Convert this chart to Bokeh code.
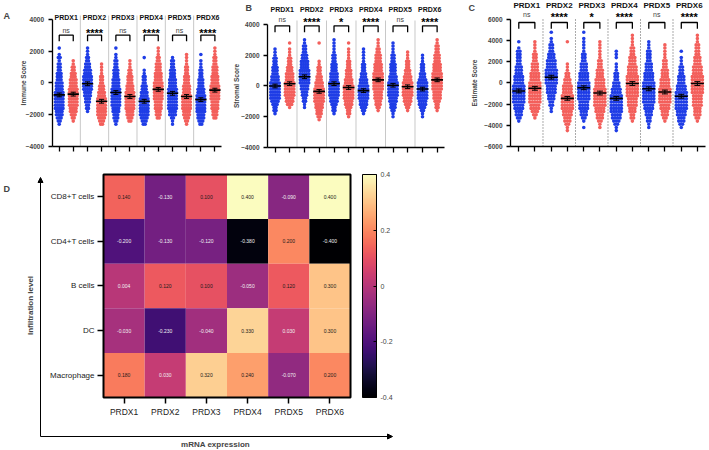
from bokeh.plotting import figure
from bokeh.layouts import row, column
from bokeh.models import (Range1d, FixedTicker, LinearColorMapper, ColorBar,
                          Label, Arrow, NormalHead, ColumnDataSource, CustomJSTickFormatter)
from bokeh.palettes import Magma256
from bokeh.core.properties import value
from bokeh.embed import file_html
from bokeh.resources import INLINE

FONT = "Liberation Sans"
BLUE = "#1f3de6"
RED = "#f35f5b"

genes = ["PRDX1", "PRDX2", "PRDX3", "PRDX4", "PRDX5", "PRDX6"]

# ---- Panel A: Immune score. Dot counts per 200-unit row, starting at -2600 ----
immune_row0, immune_step = -2600, 200
immune_blue = [
    [1,2,3,4,4,5,5,5,5,5,5,4,4,4,3,3,3,2,2,2,1,2,1,0,1],
    [0,0,0,0,1,2,2,3,3,4,4,5,5,5,5,5,4,4,3,3,2,2,1,1,1],
    [1,2,3,3,4,4,5,5,5,5,5,5,4,4,4,3,3,3,2,2,2,1,1,0,1],
    [2,3,4,5,5,5,5,5,5,4,4,3,3,2,2,2,1,1,0,0,0,1],
    [1,1,2,4,4,5,5,5,5,5,5,5,4,4,4,3,3,3,2,2,2,1],
    [2,3,4,4,5,5,5,5,5,5,4,4,3,3,3,2,2,2,1,1,1,0,1],
]
immune_red = [
    [0,1,2,3,4,4,5,5,5,5,5,5,4,4,4,3,3,2,2,1,1],
    [2,3,4,5,5,5,5,5,5,4,4,3,3,2,2,2,1,1,1,1],
    [0,2,3,4,4,5,5,5,5,5,5,4,4,3,3,3,2,2,1,1,1],
    [0,0,2,3,3,4,4,4,5,5,5,5,5,5,4,4,4,3,3,3,2,2,1,1,1],
    [1,2,3,4,4,5,5,5,5,5,4,4,4,3,3,3,2,2,2,1,1,1,1],
    [0,0,2,3,3,4,4,4,5,5,5,5,5,4,4,4,3,3,3,2,2,2,1,1,1],
]
immune_blue_mean = [-750, -50, -600, -1150, -650, -1050]
immune_red_mean = [-700, -1150, -850, -400, -850, -450]
immune_sem = 120
immune_sig = ["ns", "****", "ns", "****", "ns", "****"]

# ---- Panel B: Stromal score. Dot counts per 200-unit row, starting at -2200 ----
stromal_row0, stromal_step = -2200, 200
stromal_blue = [
    [0,0,1,2,2,3,4,5,5,5,5,5,5,4,4,3,3,3,2,2,2,1,1,1],
    [0,0,0,0,1,1,2,2,3,3,4,4,5,5,5,5,5,4,4,4,3,3,2,2,2,1,1],
    [0,0,1,2,2,3,4,4,5,5,5,5,5,4,4,4,3,3,3,2,2,2,1,1,1,1,1],
    [0,0,1,2,3,4,4,5,5,5,5,5,4,4,3,3,2,2,2,1,1,1,1,1],
    [0,1,1,2,3,3,4,4,5,5,5,5,5,4,4,3,3,3,3,2,2,2,1,1,1,1],
    [0,1,1,2,3,4,4,5,5,5,5,5,5,4,3,3,2,2,2,1,1,1],
]
stromal_red = [
    [0,0,0,0,1,3,4,4,5,5,5,5,5,4,4,4,3,3,2,2,2,1,1,1,0,1],
    [1,2,3,3,4,4,5,5,5,5,5,4,4,3,3,2,2,2,1,1,0,0,0,0,0,1],
    [0,1,2,2,3,4,4,5,5,5,5,5,4,4,3,3,3,2,2,2,1,1,1,1,0,1],
    [0,0,0,1,2,3,3,4,4,4,5,5,5,5,5,5,4,4,4,3,3,3,2,2,1,1,1],
    [0,0,0,1,2,3,4,4,5,5,5,5,5,4,4,3,3,2,2,2,1,1,1],
    [0,0,0,1,2,2,3,4,4,4,5,5,5,5,5,5,4,4,4,3,3,3,2,2,2,1,1],
]
stromal_blue_mean = [0, 600, 150, -300, 50, -200]
stromal_red_mean = [150, -350, -100, 400, -50, 400]
stromal_sem = 120
stromal_sig = ["ns", "****", "*", "****", "ns", "****"]

# ---- Panel C: Estimate score. Dot counts per 300-unit row, starting at -4500 ----
estimate_row0, estimate_step = -4500, 300
estimate_blue = [
    [0,0,0,1,2,3,3,4,4,5,5,5,5,5,5,4,4,4,3,3,3,2,2,2,2,2,1,0,1],
    [0,0,0,0,0,0,1,1,2,2,3,3,4,4,4,5,5,5,5,5,4,4,4,3,3,2,2,2,1,1,0,1],
    [0,1,0,1,2,3,3,4,4,4,5,5,5,5,5,5,4,4,4,3,3,3,2,2,2,1,1,1,1,1,0,1],
    [1,1,2,3,4,4,5,5,5,5,5,5,4,4,3,3,2,2,2,1,1,1,0,1,1,1],
    [0,1,1,2,2,3,3,4,4,5,5,5,5,5,5,5,4,4,4,3,3,3,2,2,2,2,1,1,1],
    [0,1,2,3,3,4,4,5,5,5,5,5,5,4,4,3,3,3,2,2,2,1,1,1,0,1],
]
estimate_red = [
    [0,0,0,0,1,2,3,4,4,5,5,5,5,5,5,5,4,4,4,3,3,3,2,2,2,1,1,1,1],
    [1,1,2,3,3,4,4,5,5,5,5,5,4,4,4,3,3,2,2,1,1,1,0,0,0,0,0,0,1],
    [0,1,1,2,3,3,4,4,5,5,5,5,5,5,4,4,4,3,3,3,2,2,2,1,1,1,1,1,1],
    [0,0,0,1,2,2,3,3,4,4,4,5,5,5,5,5,5,5,4,4,4,3,3,3,2,2,2,1,1,1,1],
    [0,0,0,1,2,3,3,4,4,5,5,5,5,5,4,4,4,3,3,3,2,2,2,1,1,1,1,1],
    [0,0,0,1,2,3,3,3,4,4,4,4,5,5,5,5,5,5,4,4,4,3,3,3,2,2,2,2,1,1,1],
]
estimate_blue_mean = [-750, 550, -450, -1450, -550, -1250]
estimate_red_mean = [-500, -1450, -950, -50, -850, -50]
estimate_sem = 180
estimate_sig = ["ns", "****", "*", "****", "ns", "****"]

# ---- Panel D: correlation heatmap ----
cells = ["CD8+T cells", "CD4+T cells", "B cells", "DC", "Macrophage"]
corr = [
    [0.140, -0.130, 0.100, 0.400, -0.090, 0.400],
    [-0.200, -0.130, -0.120, -0.380, 0.200, -0.400],
    [0.004, 0.120, 0.100, -0.050, 0.120, 0.300],
    [-0.030, -0.230, -0.040, 0.330, 0.030, 0.300],
    [0.180, 0.030, 0.320, 0.240, -0.070, 0.200],
]
cbar_ticks = [-0.4, -0.2, 0, 0.2, 0.4]

BX, RX = 0.255, 0.75


def scatter_panel(blue, red, bmean, rmean, sem, sig, row0, step, xr, yr, yticks, ylabel,
                  width, dx, lab_y, br_top, br_leg, ns_y, st_y, sep_top, sep_dash,
                  sep_color, lab_size, letter, letter_xy, title_standoff):
    p = figure(width=width, height=166, x_range=Range1d(*xr), y_range=Range1d(*yr),
               output_backend="svg", toolbar_location=None,
               min_border_left=0, min_border_right=0, min_border_top=0, min_border_bottom=0)
    p.outline_line_color = None
    p.grid.visible = False

    # separators
    p.segment(x0=[1, 2, 3, 4, 5], y0=[yticks[0]] * 5, x1=[1, 2, 3, 4, 5], y1=[sep_top] * 5,
              line_color=sep_color, line_width=1, line_dash=sep_dash)

    xs, ys, cs = [], [], []
    for gi in range(6):
        for counts, off, col in ((blue[gi], BX, BLUE), (red[gi], RX, RED)):
            for k, n in enumerate(counts):
                y = row0 + k * step
                for j in range(n):
                    xs.append(gi + off + (j - (n - 1) / 2) * dx)
                    ys.append(y)
                    cs.append(col)
    p.scatter(xs, ys, size=3.6, fill_color=cs, line_color=None)

    # mean lines + error bars
    mx0, mx1, my, ex, ey0, ey1, cx0, cx1, cy = [], [], [], [], [], [], [], [], []
    for gi in range(6):
        for m, off in ((bmean[gi], BX), (rmean[gi], RX)):
            c = gi + off
            mx0.append(c - 0.2); mx1.append(c + 0.2); my.append(m)
            ex.append(c); ey0.append(m - sem); ey1.append(m + sem)
            cx0 += [c - 0.09, c - 0.09]; cx1 += [c + 0.09, c + 0.09]; cy += [m - sem, m + sem]
    p.segment(x0=mx0, y0=my, x1=mx1, y1=my, line_color="black", line_width=1.6)
    p.segment(x0=ex, y0=ey0, x1=ex, y1=ey1, line_color="black", line_width=1)
    p.segment(x0=cx0, y0=cy, x1=cx1, y1=cy, line_color="black", line_width=1)

    # brackets
    bxs = [[gi + BX, gi + BX, gi + RX, gi + RX] for gi in range(6)]
    bys = [[br_leg, br_top, br_top, br_leg] for gi in range(6)]
    p.multi_line(bxs, bys, line_color="black", line_width=1.3)

    ns_idx = [i for i, s in enumerate(sig) if s == "ns"]
    st_idx = [i for i, s in enumerate(sig) if s != "ns"]
    p.text(x=[i + 0.5 for i in ns_idx], y=[ns_y] * len(ns_idx), text=[sig[i] for i in ns_idx],
           text_font=value(FONT), text_font_size="7px", text_color="#444444",
           text_align="center", text_baseline="middle")
    p.text(x=[i + 0.5 for i in st_idx], y=[st_y] * len(st_idx), text=[sig[i] for i in st_idx],
           text_font=value(FONT), text_font_size="11px", text_font_style="bold",
           text_color="black", text_align="center", text_baseline="alphabetic")

    p.text(x=[i + 0.5 for i in range(6)], y=[lab_y] * 6, text=genes,
           text_font=value(FONT), text_font_size=lab_size, text_font_style="bold",
           text_color="#111111", text_align="center", text_baseline="middle")

    # axes (pinned at the data origin so the frame can fill the figure)
    p.yaxis.fixed_location = 0
    p.yaxis.ticker = FixedTicker(ticks=yticks)
    p.yaxis.bounds = (yticks[0], yticks[-1])
    p.yaxis.axis_label = ylabel
    p.yaxis.axis_label_text_font = FONT
    p.yaxis.axis_label_text_font_size = "6.5px"
    p.yaxis.axis_label_text_font_style = "bold"
    p.yaxis.axis_label_standoff = title_standoff
    p.yaxis.major_label_text_font = FONT
    p.yaxis.major_label_text_font_size = "6.5px"
    p.yaxis.major_label_text_font_style = "bold"
    p.yaxis.major_label_standoff = 4
    p.yaxis.major_tick_out = 4
    p.yaxis.major_tick_in = 0
    p.yaxis.minor_tick_line_color = None
    p.yaxis.axis_line_width = 1.3
    p.yaxis.major_tick_line_width = 1.3

    p.xaxis.fixed_location = yticks[0]
    p.xaxis.ticker = FixedTicker(ticks=[gi + o for gi in range(6) for o in (BX, RX)])
    p.xaxis.bounds = (0, 6)
    p.xaxis.major_label_text_color = None
    p.xaxis.major_tick_out = 5
    p.xaxis.major_tick_in = 0
    p.xaxis.minor_tick_line_color = None
    p.xaxis.axis_line_width = 1.3
    p.xaxis.major_tick_line_width = 1.3

    p.add_layout(Label(x=letter_xy[0], y=letter_xy[1], x_units="screen", y_units="screen",
                       text=letter, text_font=FONT, text_font_size="9px",
                       text_font_style="bold", text_align="left", text_baseline="middle"))
    return p


pA = scatter_panel(immune_blue, immune_red, immune_blue_mean, immune_red_mean, immune_sem,
                   immune_sig, immune_row0, immune_step, (-1.818, 6.301), (-5260, 5197),
                   [-4000, -2000, 0, 2000, 4000], "Immune Score",
                   230, 0.067, 4107, 3011, 2633, 3300, 3180, 4252,
                   "solid", "#c8c8c8", "7px", "A", (3, 151), -4)
pB = scatter_panel(stromal_blue, stromal_red, stromal_blue_mean, stromal_red_mean, stromal_sem,
                   stromal_sig, stromal_row0, stromal_step, (-1.254, 6.373), (-5236, 5561),
                   [-4000, -2000, 0, 2000, 4000], "Stromal Score",
                   225, 0.071, 4955, 3915, 3500, 4325, 4180, 4260,
                   "solid", "#c8c8c8", "7px", "B", (15, 159), -2)
pC = scatter_panel(estimate_blue, estimate_red, estimate_blue_mean, estimate_red_mean,
                   estimate_sem, estimate_sig, estimate_row0, estimate_step,
                   (-1.692, 6.123), (-7890, 7795),
                   [-6000, -4000, -2000, 0, 2000, 4000, 6000], "Estimate Score",
                   254, 0.078, 7323, 5716, 5120, 6470, 6190, 6190,
                   "1 2", "#555555", "8px", "C", (13, 159), 3)

# ---- heatmap (numeric cell grid: column i spans [i, i+1], row 0 = bottom row) ----
mapper = LinearColorMapper(palette=Magma256, low=-0.4, high=0.4)
nrow = len(cells)
hx, hy, hv, ht, hc = [], [], [], [], []
for ri in range(nrow):
    for gi in range(len(genes)):
        v = corr[ri][gi]
        hx.append(gi + 0.5); hy.append(nrow - 1 - ri + 0.5); hv.append(v)
        ht.append(f"{v:.3f}")
        hc.append("#1a1a1a" if v > 0.05 else "#f0f0f0")
src = ColumnDataSource(dict(x=hx, y=hy, v=hv, t=ht, tc=hc))

pD = figure(width=709, height=284, x_range=Range1d(-2.502, 14.72), y_range=Range1d(-1.188, 5.179),
            output_backend="svg", toolbar_location=None,
            min_border_left=0, min_border_right=0, min_border_top=0, min_border_bottom=0)
pD.rect(x="x", y="y", width=1, height=1, source=src,
        fill_color={"field": "v", "transform": mapper}, line_color=None)
pD.text(x="x", y="y", text="t", text_color="tc", source=src, text_font=value(FONT),
        text_font_size="5px", text_align="center", text_baseline="middle")
pD.quad(left=[0], right=[len(genes)], bottom=[0], top=[nrow], fill_color=None,
        line_color="black", line_width=2)
pD.grid.visible = False
pD.outline_line_color = None

pD.xaxis.fixed_location = 0
pD.yaxis.fixed_location = 0
pD.xaxis.ticker = FixedTicker(ticks=[i + 0.5 for i in range(len(genes))])
pD.yaxis.ticker = FixedTicker(ticks=[i + 0.5 for i in range(nrow)])
pD.xaxis.formatter = CustomJSTickFormatter(args=dict(labels=genes),
                                           code="return labels[Math.floor(tick)]")
pD.yaxis.formatter = CustomJSTickFormatter(args=dict(labels=cells[::-1]),
                                           code="return labels[Math.floor(tick)]")
for ax in (pD.xaxis, pD.yaxis):
    ax.axis_line_color = None
    ax.major_tick_out = 6
    ax.major_tick_in = 0
    ax.minor_tick_line_color = None
    ax.major_tick_line_width = 1.5
    ax.major_label_text_font = FONT
    ax.major_label_text_color = "#222222"
pD.yaxis.major_label_text_font_size = "8px"
pD.xaxis.major_label_text_font_size = "8.5px"
pD.yaxis.major_label_standoff = 3
pD.xaxis.major_label_standoff = 3

cb = ColorBar(color_mapper=mapper, ticker=FixedTicker(ticks=cbar_ticks),
              formatter=CustomJSTickFormatter(code="return tick == 0 ? '0' : tick.toFixed(1)"),
              location=(362, 53), width=14, height=223, padding=0, margin=0,
              bar_line_color="black", bar_line_width=1,
              major_tick_in=3, major_tick_out=0, major_tick_line_color="black",
              major_label_text_font=FONT, major_label_text_font_size="7px",
              label_standoff=4, border_line_color=None, background_fill_color=None)
pD.add_layout(cb)

pD.add_layout(Arrow(x_start=40, y_start=14, x_end=40, y_end=273, start_units="screen",
                    end_units="screen", end=NormalHead(size=5, fill_color="black", line_color="black"),
                    line_width=1, line_color="black"))
pD.add_layout(Arrow(x_start=40, y_start=14, x_end=392, y_end=14, start_units="screen",
                    end_units="screen", end=NormalHead(size=5, fill_color="black", line_color="black"),
                    line_width=1, line_color="black"))
pD.add_layout(Label(x=30, y=145, x_units="screen", y_units="screen", text="Infiltration level",
                    angle=1.5708, text_font=FONT, text_font_size="8px", text_font_style="bold",
                    text_align="center", text_baseline="middle"))
pD.add_layout(Label(x=215, y=6, x_units="screen", y_units="screen", text="mRNA expression",
                    text_font=FONT, text_font_size="8px", text_font_style="bold",
                    text_align="center", text_baseline="middle"))
pD.add_layout(Label(x=3, y=262, x_units="screen", y_units="screen", text="D",
                    text_font=FONT, text_font_size="9px", text_font_style="bold",
                    text_align="left", text_baseline="middle"))

layout = column(row(pA, pB, pC), pD)
open("out.html", "w").write(file_html(layout, INLINE))
